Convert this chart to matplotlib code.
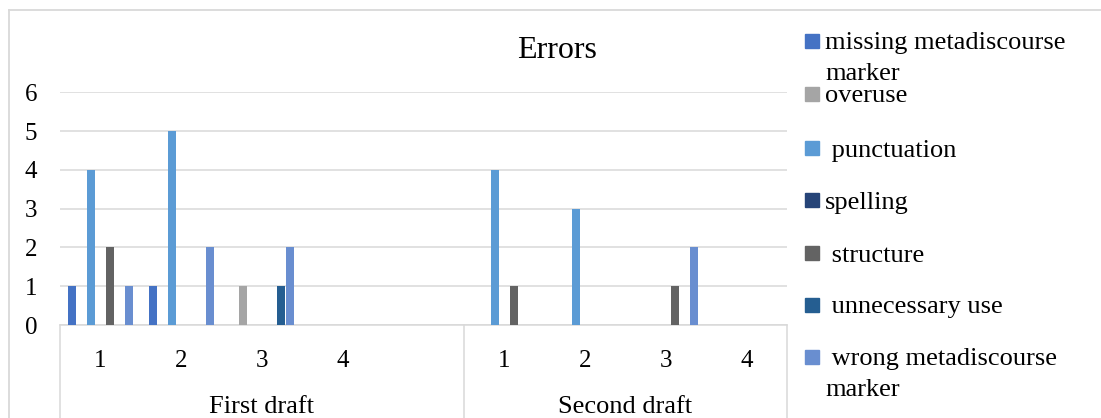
import matplotlib
matplotlib.use('Agg')
import numpy as np
import matplotlib.pyplot as plt
from matplotlib.lines import Line2D
from matplotlib.patches import Rectangle
import matplotlib.transforms as mtransforms

plt.rcParams.update({
    'font.family': 'Liberation Serif',
    'font.size':   18,
    'figure.facecolor': 'white',
    'axes.facecolor':   'white',
})

# ── Data ──────────────────────────────────────────────────────────────────────
tick_labels  = ['1', '2', '3', '4', '', '1', '2', '3', '4']
groups       = ['First draft', 'Second draft']
group_sizes  = [5, 4]

series_names = ['missing metadiscourse\nmarker', 'overuse', ' punctuation',
                'spelling', ' structure', ' unnecessary use',
                ' wrong metadiscourse\nmarker']
missing      = [1, 1, 0, 0, 0, 0, 0, 0, 0]
overuse      = [0, 0, 1, 0, 0, 0, 0, 0, 0]
punctuation  = [4, 5, 0, 0, 0, 4, 3, 0, 0]
spelling     = [0, 0, 0, 0, 0, 0, 0, 0, 0]
structure    = [2, 0, 0, 0, 0, 1, 0, 1, 0]
unnecessary  = [0, 0, 1, 0, 0, 0, 0, 0, 0]
wrong        = [1, 2, 2, 0, 0, 0, 0, 2, 0]
series_vals  = [missing, overuse, punctuation, spelling, structure,
                unnecessary, wrong]
colors       = ['#4472C4', '#A5A5A5', '#5B9BD5', '#264478', '#636363',
                '#255E91', '#698ED0']

GRID = '#D9D9D9'
W, H = 1101, 418

fig = plt.figure(figsize=(W / 100, H / 100), dpi=100)
ax = fig.add_axes([60 / W, 1 - 325 / H, 727 / W, 232.7 / H])

x = np.arange(len(tick_labels))
slot, bw = 0.1176, 0.099
for i, (vals, col) in enumerate(zip(series_vals, colors)):
    ax.bar(x + (i - 3) * slot, vals, width=bw, color=col, zorder=3)

ax.set_xlim(-0.5, len(tick_labels) - 0.5)
ax.set_ylim(0, 6)
ax.set_yticks(range(7))
ax.set_xticks(x)
ax.set_xticklabels(tick_labels)
ax.tick_params(axis='x', length=0, pad=18)
ax.tick_params(axis='y', length=0, pad=16.5)
ax.yaxis.grid(True, color=GRID, linewidth=1.1, zorder=0)
for s in ['top', 'right', 'left']:
    ax.spines[s].set_visible(False)
ax.spines['bottom'].set_color(GRID)
ax.spines['bottom'].set_linewidth(1.1)

# group dividers and labels under the axis
trans = mtransforms.blended_transform_factory(ax.transData, ax.transAxes)
edges = np.concatenate([[0], np.cumsum(group_sizes)]) - 0.5
for e in edges:
    ax.plot([e, e], [0, -0.45], transform=trans, color=GRID,
            linewidth=1.1, clip_on=False)
for g, lo, hi in zip(groups, edges[:-1], edges[1:]):
    ax.text((lo + hi) / 2, -0.378, g, transform=trans, ha='center',
            va='baseline', fontsize=19)

# outer chart border (top and left visible)
fig.add_artist(Line2D([8.5 / W, 8.5 / W], [0, 1 - 9.5 / H],
                      color=GRID, linewidth=1.3))
fig.add_artist(Line2D([8.5 / W, 1], [1 - 9.5 / H, 1 - 9.5 / H],
                      color=GRID, linewidth=1.3))

fig.text(557 / W, 1 - 50 / H, 'Errors', ha='center', va='center',
         fontsize=23)

# legend (wrapped labels overflow downwards like in Excel)
leg_y = [41, 94, 148, 200, 253, 305, 357]
line_step = 31
for name, col, yc in zip(series_names, colors, leg_y):
    fig.add_artist(Rectangle((805 / W, 1 - (yc + 7) / H), 14 / W, 14 / H,
                             color=col, transform=fig.transFigure))
    for k, part in enumerate(name.split('\n')):
        fig.text(825 / W, 1 - (yc + k * line_step) / H, part, ha='left',
                 va='center_baseline', fontsize=19)

fig.savefig('out.png', dpi=100, facecolor='white')
